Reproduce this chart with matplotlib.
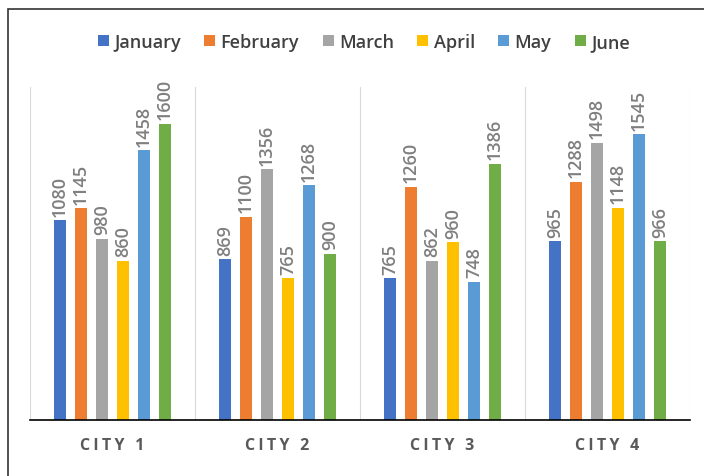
import numpy as np
import matplotlib.pyplot as plt
from matplotlib.patches import Rectangle

cities = ["CITY 1", "CITY 2", "CITY 3", "CITY 4"]
months = ["January", "February", "March", "April", "May", "June"]
january = [1080, 869, 765, 965]
february = [1145, 1100, 1260, 1288]
march = [980, 1356, 862, 1498]
april = [860, 765, 960, 1148]
may = [1458, 1268, 748, 1545]
june = [1600, 900, 1386, 966]
series = [january, february, march, april, may, june]
colors = ["#4472C4", "#ED7D31", "#A5A5A5", "#FFC000", "#5B9BD5", "#70AD47"]

plt.rcParams['font.family'] = ['Open Sans', 'DejaVu Sans']

fig = plt.figure(figsize=(7.04, 4.77), dpi=100)
# outer frame, only left and top edges inside the picture
fig.patches.append(Rectangle((8/704, -0.1), 1, 1.1 - 10/477, transform=fig.transFigure,
                             fill=False, edgecolor='#333333', linewidth=1.2))
ax = fig.add_axes([30/704, 1 - 421/477, 660/704, 333/477])

x = np.arange(len(cities))
step = 0.127
w = 0.075
for i, (vals, c, m) in enumerate(zip(series, colors, months)):
    pos = x + (i - 2.5) * step
    ax.bar(pos, vals, width=w, color=c, label=m, zorder=3)
    for p, v in zip(pos, vals):
        ax.text(p, v + 25, str(v), rotation=90, ha='center', va='bottom',
                fontsize=13, color='#7f7f7f', fontweight='semibold')

ax.set_xlim(-0.5, len(cities) - 0.5)
ax.set_ylim(0, 1800)
for b in np.arange(-0.5, len(cities), 1):
    ax.axvline(b, color='#d9d9d9', linewidth=0.8, zorder=1)
ax.set_yticks([])
ax.set_xticks(x)
ax.set_xticklabels(["\u2009".join(c) for c in cities],
                   fontsize=11.5, fontweight='bold', color='#595959')
ax.tick_params(axis='x', length=0, pad=12)
for s in ['top', 'left', 'right']:
    ax.spines[s].set_visible(False)
ax.spines['bottom'].set_color('black')
ax.spines['bottom'].set_linewidth(1.2)
ax.spines['bottom'].set_zorder(4)

fig.legend(loc='center', bbox_to_anchor=(364/704, 1 - 43/477), ncol=6, frameon=False,
           handlelength=0.6, handleheight=0.6, handletextpad=0.3,
           columnspacing=1.3, prop={'weight': 'semibold', 'size': 13})
for t in fig.legends[0].get_texts():
    t.set_color('#404040')

plt.savefig("out.png")
